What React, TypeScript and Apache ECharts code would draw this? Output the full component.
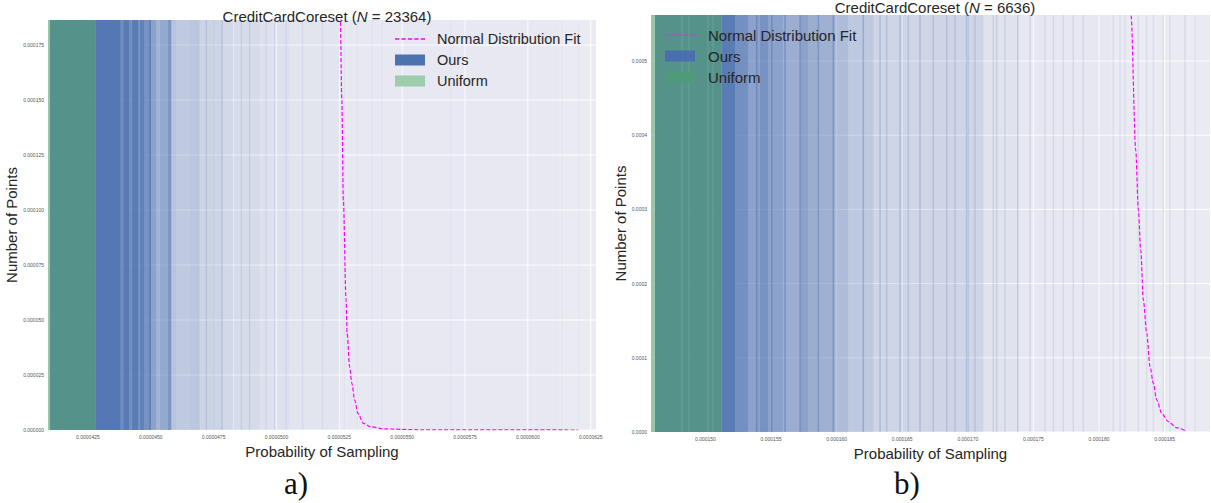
import { useEffect, useRef } from "react";
import * as echarts from "echarts";

// ---------- data ----------
const leftTitleN = "23364";
const rightTitleN = "6636";

const leftXRange = [4.0913e-5, 6.271e-5];
const leftYRange = [0, 1.864e-4];
const rightXRange = [1.45853e-4, 1.8846e-4];
const rightYRange = [0, 5.62e-4];

const leftXTicks = [0.0000425, 0.000045, 0.0000475, 0.00005, 0.0000525, 0.000055, 0.0000575, 0.00006, 0.0000625];
const leftYTicks = [0, 0.000025, 0.00005, 0.000075, 0.0001, 0.000125, 0.00015, 0.000175];
const rightXTicks = [0.00015, 0.000155, 0.00016, 0.000165, 0.00017, 0.000175, 0.00018, 0.000185];
const rightYTicks = [0, 0.0001, 0.0002, 0.0003, 0.0004, 0.0005];

// uniform sampling: every point has probability 1/N (one full-height bin)
const leftUniform = [[4.0913e-5, 4.2817e-5]];
const rightUniform = [[1.45853e-4, 1.51242e-4]];

// "Ours" histogram bins: [from, to, visible density]
const leftOursBands = [
  [4.0992e-5, 4.2817e-5, 0.95],
  [4.2817e-5, 4.381e-5, 0.95],
  [4.381e-5, 4.3901e-5, 0.78],
  [4.3901e-5, 4.4139e-5, 0.93],
  [4.4139e-5, 4.4234e-5, 0.8],
  [4.4234e-5, 4.4496e-5, 0.92],
  [4.4496e-5, 4.4563e-5, 0.8],
  [4.4563e-5, 4.4762e-5, 0.88],
  [4.4762e-5, 4.4933e-5, 0.72],
  [4.4933e-5, 4.5028e-5, 0.9],
  [4.5028e-5, 4.5226e-5, 0.6],
  [4.5226e-5, 4.5357e-5, 0.45],
  [4.5357e-5, 4.5687e-5, 0.55],
  [4.5687e-5, 4.5821e-5, 0.7],
  [4.5821e-5, 4.602e-5, 0.32],
  [4.602e-5, 4.6548e-5, 0.27],
  [4.6548e-5, 4.6944e-5, 0.3],
  [4.6944e-5, 4.7806e-5, 0.19],
  [4.7806e-5, 4.7869e-5, 0.33],
  [4.7869e-5, 4.8266e-5, 0.15],
  [4.8306e-5, 4.9325e-5, 0.12],
  [4.9325e-5, 5.0516e-5, 0.08],
  [5.0516e-5, 5.25e-5, 0.05],
  [5.25e-5, 6.123e-5, 0.015],
];
// isolated "Ours" bins: [position, visible density]
const leftOursLines = [
  [4.721e-5, 0.25], [4.75e-5, 0.2], [4.8599e-5, 0.18], [4.8929e-5, 0.2],
  [4.9591e-5, 0.12], [4.9921e-5, 0.1], [5.0385e-5, 0.12], [5.1044e-5, 0.1],
  [5.1837e-5, 0.1], [5.2698e-5, 0.06], [5.3214e-5, 0.06], [5.381e-5, 0.05],
  [5.4206e-5, 0.05], [5.6944e-5, 0.05], [6.1349e-5, 0.05], [6.2024e-5, 0.04],
];

const rightOursBands = [
  [1.46158e-4, 1.4814e-4, 0.95],
  [1.4814e-4, 1.48292e-4, 0.8],
  [1.48292e-4, 1.48674e-4, 0.95],
  [1.48674e-4, 1.48826e-4, 0.8],
  [1.48826e-4, 1.50122e-4, 0.95],
  [1.50122e-4, 1.50274e-4, 0.8],
  [1.50274e-4, 1.50503e-4, 0.95],
  [1.50503e-4, 1.50655e-4, 0.8],
  [1.50655e-4, 1.51242e-4, 0.95],
  [1.51242e-4, 1.52256e-4, 0.92],
  [1.52256e-4, 1.53247e-4, 0.75],
  [1.53247e-4, 1.54161e-4, 0.6],
  [1.54161e-4, 1.54771e-4, 0.72],
  [1.54771e-4, 1.55937e-4, 0.6],
  [1.55937e-4, 1.5721e-4, 0.5],
  [1.5721e-4, 1.5782e-4, 0.6],
  [1.5782e-4, 1.58735e-4, 0.5],
  [1.58735e-4, 1.59878e-4, 0.48],
  [1.59878e-4, 1.60892e-4, 0.38],
  [1.60892e-4, 1.62797e-4, 0.28],
  [1.62797e-4, 1.69405e-4, 0.17],
  [1.69405e-4, 1.71181e-4, 0.17],
  [1.71181e-4, 1.73727e-4, 0.06],
  [1.73727e-4, 1.80838e-4, 0.025],
];
const rightOursLines = [
  [1.5391e-4, 0.5], [1.55053e-4, 0.5], [1.56067e-4, 0.45], [1.5721e-4, 0.4],
  [1.58605e-4, 0.4], [1.59748e-4, 0.4], [1.62035e-4, 0.35], [1.63308e-4, 0.25],
  [1.63819e-4, 0.2], [1.64832e-4, 0.25], [1.65465e-4, 0.2], [1.66357e-4, 0.25],
  [1.6737e-4, 0.2], [1.68392e-4, 0.2], [1.69024e-4, 0.2], [1.69916e-4, 0.25],
  [1.70038e-4, 0.2], [1.70549e-4, 0.2], [1.71944e-4, 0.18], [1.72203e-4, 0.18],
  [1.72835e-4, 0.15], [1.73803e-4, 0.25], [1.74741e-4, 0.12], [1.75884e-4, 0.12],
  [1.76517e-4, 0.12], [1.77279e-4, 0.12], [1.78041e-4, 0.12], [1.78803e-4, 0.12],
  [1.8109e-4, 0.1], [1.81601e-4, 0.1], [1.81982e-4, 0.1], [1.82995e-4, 0.1],
  [1.83636e-4, 0.1], [1.84139e-4, 0.1], [1.84901e-4, 0.1], [1.85412e-4, 0.1],
  [1.86555e-4, 0.12], [1.87317e-4, 0.08],
];

// Normal distribution fit (right tail)
const leftFitX = [5.25e-5, 5.254e-5, 5.26e-5, 5.266e-5, 5.277e-5, 5.281e-5, 5.291e-5, 5.3e-5, 5.311e-5, 5.324e-5, 5.346e-5, 5.373e-5, 5.426e-5, 5.57e-5, 6.2e-5];
const leftFitY = [2.4e-4, 1.864e-4, 1.5e-4, 1.045e-4, 5.91e-5, 4.41e-5, 2.88e-5, 2.12e-5, 1.36e-5, 7.6e-6, 3.0e-6, 1.5e-6, 5e-7, 1e-7, 0];
const rightFitX = [1.8235e-4, 1.8244e-4, 1.828e-4, 1.83e-4, 1.8318e-4, 1.8338e-4, 1.8364e-4, 1.8389e-4, 1.8414e-4, 1.844e-4, 1.8478e-4, 1.8528e-4, 1.8592e-4, 1.8655e-4];
const rightFitY = [6.5e-4, 5.62e-4, 3.8e-4, 2.99e-4, 2.45e-4, 1.78e-4, 1.33e-4, 8.8e-5, 6.56e-5, 4.31e-5, 2.52e-5, 1.39e-5, 5.8e-6, 1.8e-6];

// ---------- styling ----------
const BG = "#EAEAF2";
const BLUE = "#4C72B0";
const GREEN = "#55A868";
const MAGENTA = "#FF00FF";
const TEXT = "#262626";
const FONT = "Liberation Sans, Arial, sans-serif";
const DASH_ICON = "path://M0,0h4v1.2h-4zM6,0h4v1.2h-4zM12,0h4v1.2h-4zM18,0h4v1.2h-4zM24,0h4v1.2h-4z";

function bandRender(color: string, fixedOpacity?: number) {
  return (params: any, api: any) => {
    const cs = params.coordSys;
    let x0 = api.coord([api.value(0), 0])[0];
    let x1 = api.coord([api.value(1), 0])[0];
    x0 = Math.max(x0, cs.x);
    x1 = Math.min(x1, cs.x + cs.width);
    if (x1 <= x0) return null;
    return {
      type: "rect",
      shape: { x: x0, y: cs.y, width: x1 - x0, height: cs.height },
      style: { fill: color, opacity: fixedOpacity !== undefined ? fixedOpacity : api.value(2) },
    };
  };
}

function lineRender(color: string, w: number) {
  return (params: any, api: any) => {
    const cs = params.coordSys;
    const x = api.coord([api.value(0), 0])[0];
    if (x < cs.x || x > cs.x + cs.width) return null;
    return {
      type: "rect",
      shape: { x: x - w / 2, y: cs.y, width: w, height: cs.height },
      style: { fill: color, opacity: api.value(1) },
    };
  };
}

function vGridRender(params: any, api: any) {
  const cs = params.coordSys;
  const x = api.coord([api.value(0), api.value(1)])[0];
  return {
    type: "line",
    shape: { x1: x, y1: cs.y, x2: x, y2: cs.y + cs.height },
    style: { stroke: "#ffffff", lineWidth: 1 },
  };
}

function hGridRender(params: any, api: any) {
  const cs = params.coordSys;
  const y = api.coord([api.value(0), api.value(1)])[1];
  return {
    type: "line",
    shape: { x1: cs.x, y1: y, x2: cs.x + cs.width, y2: y },
    style: { stroke: "#ffffff", lineWidth: 1 },
  };
}

function makeXAxis(gridIndex: number, range: number[], ticks: number[], digits: number) {
  return {
    type: "value",
    gridIndex,
    min: range[0],
    max: range[1],
    splitLine: { show: false },
    axisLine: { show: false },
    axisTick: { show: false },
    axisLabel: {
      customValues: ticks,
      fontSize: 5,
      color: "#555",
      margin: 4,
      fontFamily: FONT,
      formatter: (v: number) => v.toFixed(digits),
    },
    name: "Probability of Sampling",
    nameLocation: "middle",
    nameGap: 8,
    nameTextStyle: { fontSize: 15, color: TEXT, fontFamily: FONT, verticalAlign: "top" },
  };
}

function makeYAxis(gridIndex: number, range: number[], ticks: number[], digits: number, gap: number) {
  return {
    type: "value",
    gridIndex,
    min: range[0],
    max: range[1],
    splitLine: { show: false },
    axisLine: { show: false },
    axisTick: { show: false },
    axisLabel: {
      customValues: ticks,
      fontSize: 5,
      color: "#555",
      margin: 4,
      fontFamily: FONT,
      formatter: (v: number) => v.toFixed(digits),
    },
    name: "Number of Points",
    nameLocation: "middle",
    nameGap: gap,
    nameTextStyle: { fontSize: 15, color: TEXT, fontFamily: FONT },
  };
}

function panelSeries(
  idx: number,
  xRange: number[],
  xTicks: number[],
  yTicks: number[],
  uniform: number[][],
  bands: number[][],
  lines: number[][],
  lineW: number,
  fitX: number[],
  fitY: number[]
) {
  return [
    {
      type: "custom",
      name: "gridx" + idx,
      xAxisIndex: idx,
      yAxisIndex: idx,
      silent: true,
      z: 0,
      renderItem: vGridRender,
      data: xTicks.map((v) => [v, 0]),
    },
    {
      type: "custom",
      name: "gridy" + idx,
      xAxisIndex: idx,
      yAxisIndex: idx,
      silent: true,
      z: 0,
      renderItem: hGridRender,
      data: yTicks.map((v) => [xRange[0], v]),
    },
    {
      type: "custom",
      name: "Ours",
      xAxisIndex: idx,
      yAxisIndex: idx,
      silent: true,
      z: 1,
      itemStyle: { color: BLUE },
      renderItem: bandRender(BLUE),
      data: bands,
    },
    {
      type: "custom",
      name: "Ours",
      xAxisIndex: idx,
      yAxisIndex: idx,
      silent: true,
      z: 1,
      itemStyle: { color: BLUE },
      renderItem: lineRender(BLUE, lineW),
      data: lines,
    },
    {
      type: "custom",
      name: "Uniform",
      xAxisIndex: idx,
      yAxisIndex: idx,
      silent: true,
      z: 2,
      itemStyle: { color: GREEN },
      renderItem: bandRender(GREEN, 0.55),
      data: uniform,
    },
    {
      type: "line",
      name: "Normal Distribution Fit",
      xAxisIndex: idx,
      yAxisIndex: idx,
      silent: true,
      z: 3,
      symbol: "none",
      showSymbol: false,
      smooth: 0.3,
      smoothMonotone: "x",
      clip: true,
      lineStyle: { color: MAGENTA, width: 1.2, type: [4, 2] },
      itemStyle: { color: MAGENTA },
      data: fitX.map((x, i) => [x, fitY[i]]),
    },
  ];
}

export default function App() {
  const ref = useRef<HTMLDivElement>(null);
  useEffect(() => {
    if (!ref.current) return;
    const chart = echarts.init(ref.current, null, { renderer: "svg" });
    const option: any = {
      animation: false,
      backgroundColor: "#ffffff",
      textStyle: { fontFamily: FONT },
      title: [
        {
          text: "CreditCardCoreset ({i|N} = " + leftTitleN + ")",
          left: 322,
          top: 4,
          textAlign: "center",
          textStyle: {
            fontSize: 15,
            fontWeight: "normal",
            color: TEXT,
            fontFamily: FONT,
            rich: { i: { fontStyle: "italic", fontSize: 15, color: TEXT, fontFamily: FONT } },
          },
        },
        {
          text: "CreditCardCoreset ({i|N} = " + rightTitleN + ")",
          left: 930,
          top: -5,
          textAlign: "center",
          textStyle: {
            fontSize: 15,
            fontWeight: "normal",
            color: TEXT,
            fontFamily: FONT,
            rich: { i: { fontStyle: "italic", fontSize: 15, color: TEXT, fontFamily: FONT } },
          },
        },
      ],
      legend: [
        {
          orient: "vertical",
          left: 395,
          top: 31.5,
          padding: 0,
          itemWidth: 30,
          itemHeight: 11,
          itemGap: 6,
          selectedMode: false,
          textStyle: { fontSize: 14.5, color: TEXT, fontFamily: FONT, padding: [0, 0, 0, 7] },
          data: [
            { name: "Normal Distribution Fit", icon: DASH_ICON, itemStyle: { color: MAGENTA } },
            { name: "Ours", icon: "rect", itemStyle: { color: BLUE } },
            { name: "Uniform", icon: "rect", itemStyle: { color: "#9FCBAF" } },
          ],
        },
        {
          orient: "vertical",
          left: 665,
          top: 27.5,
          padding: 0,
          itemWidth: 30,
          itemHeight: 11,
          itemGap: 6,
          selectedMode: false,
          textStyle: { fontSize: 15, color: TEXT, fontFamily: FONT, padding: [0, 0, 0, 8] },
          data: [
            { name: "Normal Distribution Fit", icon: DASH_ICON, itemStyle: { color: "#A852D0" } },
            { name: "Ours", icon: "rect", itemStyle: { color: "#4A6FAE" } },
            { name: "Uniform", icon: "rect", itemStyle: { color: "#4F9A78" } },
          ],
        },
      ],
      grid: [
        { left: 48, top: 20, width: 548, height: 410, show: true, backgroundColor: BG, borderWidth: 0 },
        { left: 651, top: 15, width: 559, height: 417, show: true, backgroundColor: BG, borderWidth: 0 },
      ],
      xAxis: [makeXAxis(0, leftXRange, leftXTicks, 7), makeXAxis(1, rightXRange, rightXTicks, 6)],
      yAxis: [makeYAxis(0, leftYRange, leftYTicks, 6, 26), makeYAxis(1, rightYRange, rightYTicks, 4, 21)],
      series: [
        ...panelSeries(0, leftXRange, leftXTicks, leftYTicks, leftUniform, leftOursBands, leftOursLines, 1, leftFitX, leftFitY),
        ...panelSeries(1, rightXRange, rightXTicks, rightYTicks, rightUniform, rightOursBands, rightOursLines, 1.5, rightFitX, rightFitY),
      ],
      graphic: [
        { type: "text", left: 284, top: 468, style: { text: "a)", fontSize: 31, fontFamily: "Liberation Serif, DejaVu Serif, serif", fill: "#111" } },
        { type: "text", left: 894, top: 468, style: { text: "b)", fontSize: 31, fontFamily: "Liberation Serif, DejaVu Serif, serif", fill: "#111" } },
      ],
    };
    chart.setOption(option);
    return () => chart.dispose();
  }, []);
  return (
    <div
      ref={ref}
      style={{ position: "absolute", left: 0, top: 0, width: 1211, height: 503, background: "#fff" }}
    />
  );
}
